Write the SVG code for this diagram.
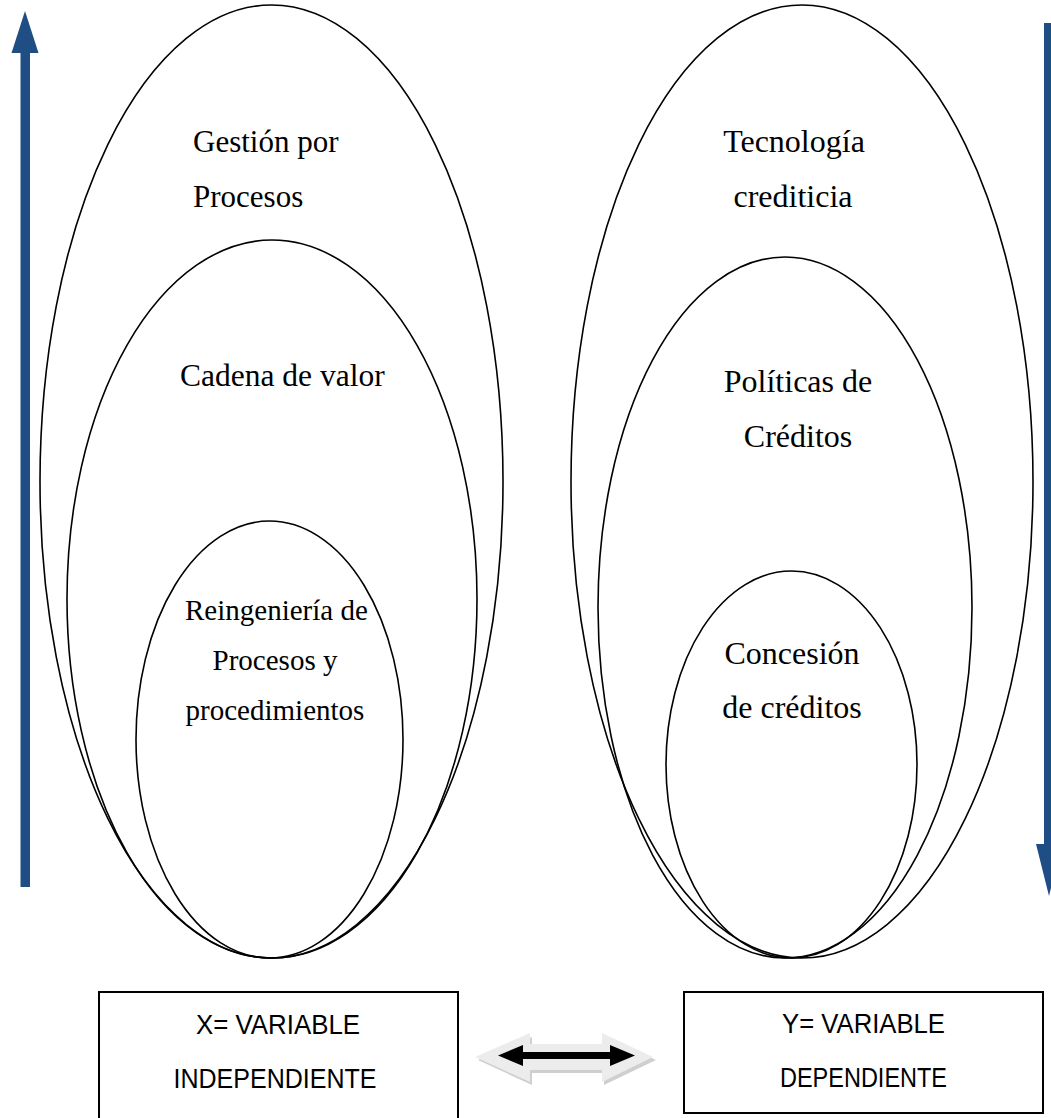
<svg xmlns="http://www.w3.org/2000/svg" width="1051" height="1118" viewBox="0 0 1051 1118">
  <style>
    .ring { fill: none; stroke: #000; stroke-width: 1.6; }
    .lbl { font-family: "Liberation Serif", "Times New Roman", serif; fill: #000; }
    .box { fill: #fff; stroke: #000; stroke-width: 2; }
    .var { font-family: "Liberation Sans", Arial, sans-serif; font-size: 28.5px; fill: #000; text-anchor: middle; }
    .axis { fill: #1F4E85; }
  </style>

  <rect width="1051" height="1118" fill="#fff"/>

  <!-- Vertical direction arrows -->
  <g id="arrow-up">
    <rect class="axis" x="20.5" y="52" width="9.5" height="835"/>
    <polygon class="axis" points="25,11 38.5,53 11.5,53"/>
  </g>
  <g id="arrow-down">
    <rect class="axis" x="1044" y="23" width="10" height="822"/>
    <polygon class="axis" points="1036,844 1062,844 1049,896"/>
  </g>

  <!-- Independent variable: nested concepts -->
  <g id="gestion-procesos">
    <ellipse class="ring" cx="271.5" cy="481.5" rx="231.5" ry="476.5"/>
    <text class="lbl" font-size="31" x="193" y="152">Gestión por</text>
    <text class="lbl" font-size="31" x="193" y="207">Procesos</text>
  </g>
  <g id="cadena-valor">
    <ellipse class="ring" cx="272" cy="599" rx="205" ry="359"/>
    <text class="lbl" font-size="31.5" x="180" y="386">Cadena de valor</text>
  </g>
  <g id="reingenieria">
    <ellipse class="ring" cx="269.5" cy="739.5" rx="133.5" ry="218.5"/>
    <text class="lbl" font-size="29" x="185" y="620">Reingeniería de</text>
    <text class="lbl" font-size="29" x="275" y="670" text-anchor="middle">Procesos y</text>
    <text class="lbl" font-size="29" x="275" y="720" text-anchor="middle">procedimientos</text>
  </g>

  <!-- Dependent variable: nested concepts -->
  <g id="tecnologia-crediticia">
    <ellipse class="ring" cx="802" cy="481.5" rx="231" ry="476.5"/>
    <text class="lbl" font-size="32" x="794" y="152" text-anchor="middle">Tecnología</text>
    <text class="lbl" font-size="32" x="793" y="207" text-anchor="middle">crediticia</text>
  </g>
  <g id="politicas-creditos">
    <ellipse class="ring" cx="785" cy="607.5" rx="187" ry="350.5"/>
    <text class="lbl" font-size="32" x="798" y="392" text-anchor="middle">Políticas de</text>
    <text class="lbl" font-size="32" x="798" y="447" text-anchor="middle">Créditos</text>
  </g>
  <g id="concesion-creditos">
    <ellipse class="ring" cx="791.5" cy="764.5" rx="125.5" ry="193.5"/>
    <text class="lbl" font-size="32" x="792" y="664" text-anchor="middle">Concesión</text>
    <text class="lbl" font-size="32" x="792" y="718" text-anchor="middle">de créditos</text>
  </g>

  <!-- Variable boxes -->
  <g id="var-x">
    <rect class="box" x="99" y="992" width="359" height="130"/>
    <text class="var" x="278" y="1034" textLength="164" lengthAdjust="spacingAndGlyphs">X= VARIABLE</text>
    <text class="var" x="275" y="1088" textLength="203" lengthAdjust="spacingAndGlyphs">INDEPENDIENTE</text>
  </g>
  <g id="var-y">
    <rect class="box" x="684" y="992" width="359" height="121"/>
    <text class="var" x="863.5" y="1033" textLength="163" lengthAdjust="spacingAndGlyphs">Y= VARIABLE</text>
    <text class="var" x="863.5" y="1087" textLength="167" lengthAdjust="spacingAndGlyphs">DEPENDIENTE</text>
  </g>

  <!-- Relation between the variables -->
  <g id="connectors">
    <polygon fill="#cfcfcf" points="478,1060 532,1037 532,1048 604,1048 604,1037 656,1060 604,1085 604,1073 532,1073 532,1085"/>
    <polygon fill="#ececec" points="475,1057 530,1033 530,1044 602,1044 602,1033 653,1057 602,1082 602,1070 530,1070 530,1082"/>
    <polygon fill="#000" points="498,1055.5 523,1045 523,1052 610,1052 610,1045 635,1055.5 610,1066 610,1059 523,1059 523,1066"/>
  </g>
</svg>
